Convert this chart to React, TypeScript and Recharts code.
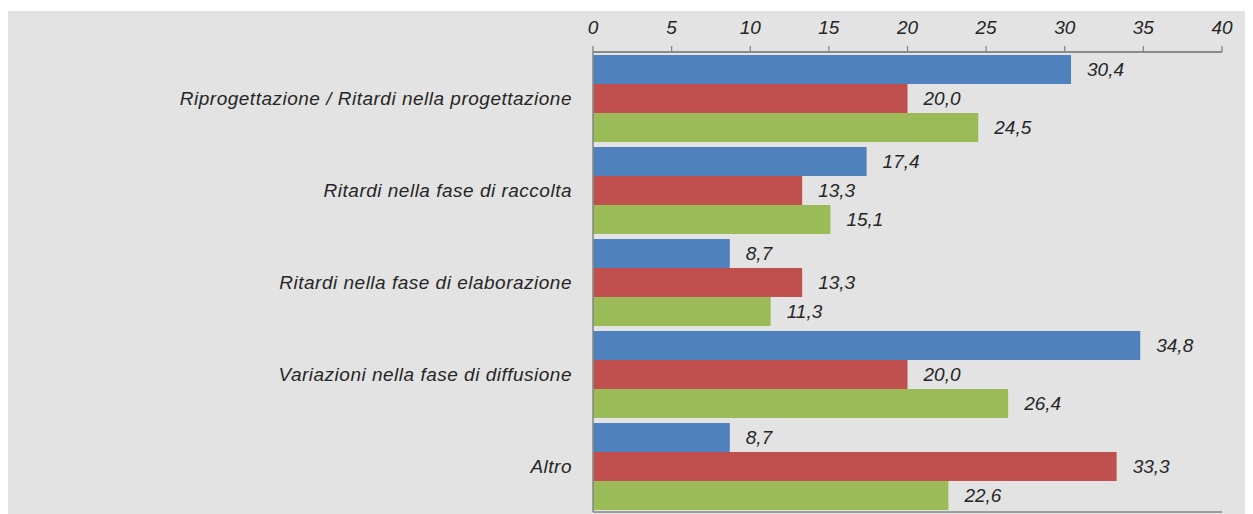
import React from "react";
import { BarChart, Bar, XAxis, YAxis, CartesianGrid, LabelList } from "recharts";

const categories = [
  "Riprogettazione / Ritardi nella progettazione",
  "Ritardi nella fase di raccolta",
  "Ritardi nella fase di elaborazione",
  "Variazioni nella fase di diffusione",
  "Altro",
];
const serie1 = [30.4, 17.4, 8.7, 34.8, 8.7];
const serie2 = [20.0, 13.3, 13.3, 20.0, 33.3];
const serie3 = [24.5, 15.1, 11.3, 26.4, 22.6];
const xTicks = [0, 5, 10, 15, 20, 25, 30, 35, 40];
const sepTicks = [0, 1, 2, 3, 4, 5];

const data = categories.map((c, i) => ({
  category: c,
  s1: serie1[i],
  s2: serie2[i],
  s3: serie3[i],
}));

const FONT = "'Liberation Sans', Arial, sans-serif";
const TEXT = "#262626";
const AXIS = "#868686";

const fmt = (v: any) => Number(v).toFixed(1).replace(".", ",");

const labelStyle = {
  fill: TEXT,
  fontSize: 19,
  fontStyle: "italic",
  fontFamily: FONT,
};

export default function App() {
  return (
    <div style={{ marginTop: 3, width: 1245, height: 503, background: "#e3e3e3" }}>
      <BarChart
        layout="vertical"
        width={1245}
        height={503}
        data={data}
        margin={{ top: 6, right: 31, bottom: 2, left: 0 }}
        barCategoryGap={3}
        barGap={0}
      >
        <CartesianGrid yAxisId="sep" horizontal vertical={false} stroke={AXIS} strokeWidth={1.3} />
        <XAxis
          type="number"
          orientation="top"
          domain={[0, 40]}
          ticks={xTicks}
          height={35}
          tickSize={6}
          tickMargin={12}
          stroke={AXIS}
          strokeWidth={1.3}
          tick={{ fill: TEXT, fontSize: 19, fontStyle: "italic", fontFamily: FONT }}
        />
        <YAxis
          yAxisId="sep"
          type="number"
          domain={[0, 5]}
          ticks={sepTicks}
          width={0}
          axisLine={false}
          tickSize={6}
          tick={false}
          stroke={AXIS}
          strokeWidth={1.3}
        />
        <YAxis
          type="category"
          dataKey="category"
          width={585}
          tickLine={false}
          tickSize={6}
          tickMargin={15}
          stroke={AXIS}
          strokeWidth={1.5}
          interval={0}
          tick={{ fill: TEXT, fontSize: 19, fontStyle: "italic", fontFamily: FONT, letterSpacing: 0.5 }}
        />
        <Bar dataKey="s1" fill="#4f81bd" isAnimationActive={false}>
          <LabelList dataKey="s1" position="right" offset={16} formatter={fmt} style={labelStyle} />
        </Bar>
        <Bar dataKey="s2" fill="#c0504d" isAnimationActive={false}>
          <LabelList dataKey="s2" position="right" offset={16} formatter={fmt} style={labelStyle} />
        </Bar>
        <Bar dataKey="s3" fill="#9bbb59" isAnimationActive={false}>
          <LabelList dataKey="s3" position="right" offset={16} formatter={fmt} style={labelStyle} />
        </Bar>
      </BarChart>
    </div>
  );
}
